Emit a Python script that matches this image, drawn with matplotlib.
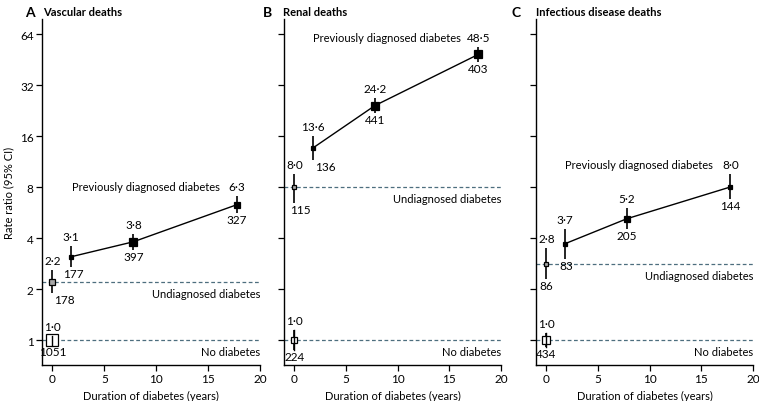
import matplotlib
matplotlib.use('Agg')
import matplotlib.pyplot as plt

plt.rcParams['font.family'] = ['Lato', 'DejaVu Sans']
plt.rcParams['font.size'] = 8.5

panel_letters = ['A', 'B', 'C']
panel_titles = ['Vascular deaths', 'Renal deaths', 'Infectious disease deaths']

# years since diagnosis for previously diagnosed groups
prev_years = [1.8, 7.8, 17.8]

# previously diagnosed diabetes: rate ratio, 95% CI, number of deaths
prev_rr = [[3.1, 3.8, 6.3], [13.6, 24.2, 48.5], [3.7, 5.2, 8.0]]
prev_lo = [[2.7, 3.4, 5.6], [11.5, 22.0, 44.0], [3.0, 4.5, 6.8]]
prev_hi = [[3.6, 4.2, 7.1], [16.0, 27.0, 54.0], [4.5, 6.0, 9.5]]
prev_n = [[177, 397, 327], [136, 441, 403], [83, 205, 144]]

# undiagnosed diabetes
undiag_rr = [2.2, 8.0, 2.8]
undiag_lo = [1.9, 6.4, 2.3]
undiag_hi = [2.6, 9.5, 3.5]
undiag_n = [178, 115, 86]

# no diabetes (reference group)
nodiab_rr = [1.0, 1.0, 1.0]
nodiab_lo = [0.94, 0.87, 0.91]
nodiab_hi = [1.06, 1.15, 1.10]
nodiab_n = [1051, 224, 434]

yticks = [1, 2, 4, 8, 16, 32, 64]
xticks = [0, 5, 10, 15, 20]

# horizontal nudges (pixels) for the death-count labels
undiag_dx = [12, 6, 0]
prev_first_dx = [2, 12, 1]

dash_color = '#4d6e7e'
num_fs = 8.5
lab_fs = 8


def fmt(v):
    return f"{v:.1f}".replace('.', '\u00b7')


def box_size(n):
    return max(3.0, 0.27 * n ** 0.5)


def draw_point(ax, x, rr, lo, hi, n, face, count_dx=0):
    ax.plot([x, x], [lo, hi], color='black', lw=1.2, zorder=3,
            solid_capstyle='butt')
    ax.plot([x], [rr], marker='s', ms=box_size(n), mfc=face, mec='black',
            mew=0.9, ls='none', zorder=4)
    if face == 'white':
        # CI line visible through the open reference box
        ax.plot([x, x], [lo, hi], color='black', lw=1.0, zorder=5)
    ax.annotate(fmt(rr), (x, hi), xytext=(0, 4), textcoords='offset pixels',
                ha='center', va='bottom', fontsize=num_fs)
    ax.annotate(str(n), (x, lo), xytext=(count_dx, -1),
                textcoords='offset pixels', ha='center', va='top',
                fontsize=num_fs)


fig = plt.figure(figsize=(7.59, 4.02), dpi=100)

lefts = [42, 284, 536]
rights = [260, 501, 753]
bottom_px, top_px = 366, 20
title_x = [(25, 43), (263, 283), (512, 536)]

for i in range(3):
    l = lefts[i] / 759
    w = (rights[i] - lefts[i]) / 759
    b = 1 - bottom_px / 402
    h = (bottom_px - top_px) / 402
    ax = fig.add_axes([l, b, w, h])

    ax.set_yscale('log', base=2)
    ax.set_ylim(0.712, 78.5)
    ax.set_xlim(-1, 20)

    # reference lines
    ax.plot([-1, 20], [1, 1], color=dash_color, lw=0.9, ls=(0, (3, 2)), zorder=1)
    ax.plot([-1, 20], [undiag_rr[i]] * 2, color=dash_color, lw=0.9,
            ls=(0, (3, 2)), zorder=1)
    ax.annotate('No diabetes', (20, 1), xytext=(0, -6),
                textcoords='offset pixels', ha='right', va='top',
                fontsize=lab_fs)
    ax.annotate('Undiagnosed diabetes', (20, undiag_rr[i]), xytext=(0, -6),
                textcoords='offset pixels', ha='right', va='top',
                fontsize=lab_fs)

    # previously diagnosed trend line
    ax.plot(prev_years, prev_rr[i], color='black', lw=1.0, zorder=2)

    draw_point(ax, 0, nodiab_rr[i], nodiab_lo[i], nodiab_hi[i], nodiab_n[i],
               'white')
    draw_point(ax, 0, undiag_rr[i], undiag_lo[i], undiag_hi[i], undiag_n[i],
               '#a8a8a8', undiag_dx[i])
    for j in range(3):
        draw_point(ax, prev_years[j], prev_rr[i][j], prev_lo[i][j],
                   prev_hi[i][j], prev_n[i][j], 'black',
                   prev_first_dx[i] if j == 0 else 0)

    ax.annotate('Previously diagnosed diabetes', (prev_years[-1], prev_hi[i][-1]),
                xytext=(-17, 4), textcoords='offset pixels',
                ha='right', va='bottom', fontsize=lab_fs)

    ax.set_yticks(yticks)
    ax.yaxis.set_minor_locator(matplotlib.ticker.NullLocator())
    if i == 0:
        ax.set_yticklabels([str(t) for t in yticks])
        ax.set_ylabel('Rate ratio (95% CI)', labelpad=4, fontsize=lab_fs)
    else:
        ax.set_yticklabels([])
    ax.set_xticks(xticks)
    ax.set_xlabel('Duration of diabetes (years)', labelpad=4, fontsize=lab_fs)

    for s in ['top', 'right']:
        ax.spines[s].set_visible(False)
    for s in ['left', 'bottom']:
        ax.spines[s].set_linewidth(1.0)
    ax.tick_params(direction='out', length=4, width=0.9, labelsize=num_fs, pad=2)

    fig.text(title_x[i][0] / 759, 1 - 13 / 402, panel_letters[i],
             fontsize=10, fontweight='bold', va='center')
    fig.text(title_x[i][1] / 759, 1 - 13 / 402, panel_titles[i],
             fontsize=lab_fs, fontweight='bold', va='center')

fig.savefig('out.png', dpi=100)
